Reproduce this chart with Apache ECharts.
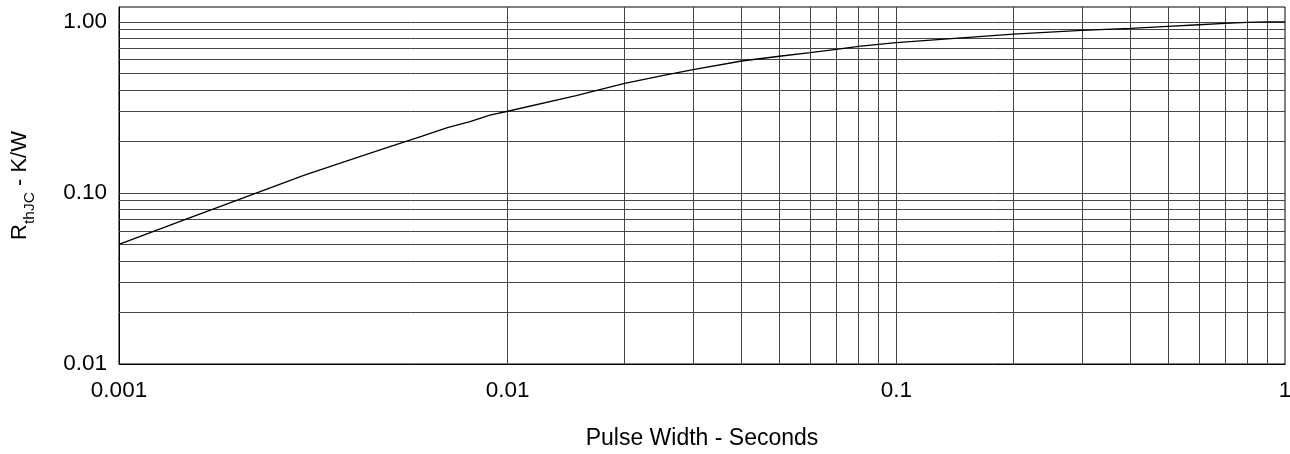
<!DOCTYPE html>
<html>
<head>
<meta charset="utf-8">
<script src="https://cdn.jsdelivr.net/npm/echarts@6/dist/echarts.min.js"></script>
<style>
html,body{margin:0;padding:0;background:#fff;}
#chart{width:1290px;height:454px;}
</style>
</head>
<body>
<div id="chart"></div>
<script>
// Pulse width (s)
var pulseWidth = [0.001, 0.0015, 0.002, 0.003, 0.004, 0.005, 0.006, 0.007, 0.008, 0.009,
                  0.01, 0.015, 0.02, 0.025, 0.03, 0.04, 0.05, 0.06, 0.07, 0.08, 0.09,
                  0.1, 0.2, 0.3, 0.4, 0.5, 0.6, 0.7, 0.8, 0.9, 1.0];
// Rth JC (K/W)
var rthJC = [0.050, 0.0707, 0.090, 0.127, 0.158, 0.187, 0.214, 0.241, 0.261, 0.285,
             0.300, 0.370, 0.437, 0.484, 0.525, 0.590, 0.629, 0.660, 0.690, 0.718, 0.738,
             0.755, 0.848, 0.891, 0.915, 0.940, 0.961, 0.979, 0.992, 1.0, 1.0];
// grid lines
var xGridValues = [0.002,0.003,0.004,0.005,0.006,0.007,0.008,0.009,0.01,
                   0.02,0.03,0.04,0.05,0.06,0.07,0.08,0.09,0.1,
                   0.2,0.3,0.4,0.5,0.6,0.7,0.8,0.9];
var yGridValues = [0.02,0.03,0.04,0.05,0.06,0.07,0.08,0.09,0.1,
                   0.2,0.3,0.4,0.5,0.6,0.7,0.8,0.9,1.0];
var xTickLabels = {'0.001':'0.001','0.01':'0.01','0.1':'0.1','1':'1'};
var yTickLabels = {'0.01':'0.01','0.1':'0.10','1':'1.00'};

function lookupLabel(map, v) {
  for (var k in map) {
    var kv = parseFloat(k);
    if (Math.abs(v - kv) < kv * 1e-6) return map[k];
  }
  return '';
}

var FONT = "'Liberation Sans', Arial, sans-serif";
var chart = echarts.init(document.getElementById('chart'));

var gridLineData = [];
xGridValues.forEach(function (v) { gridLineData.push({ xAxis: v }); });
yGridValues.forEach(function (v) { gridLineData.push({ yAxis: v }); });

chart.setOption({
  animation: false,
  backgroundColor: '#fff',
  grid: {
    left: 119, right: 5, top: 7, bottom: 90,
    containLabel: false,
    outerBoundsMode: 'none',
    show: true, borderColor: '#000', borderWidth: 1, backgroundColor: 'transparent'
  },
  xAxis: {
    type: 'log', logBase: 10, min: 0.001, max: 1,
    name: 'Pulse Width - Seconds',
    nameLocation: 'middle', nameGap: 63,
    nameTextStyle: { fontFamily: FONT, fontSize: 23, color: '#000' },
    axisLine: { lineStyle: { color: '#000', width: 1 } },
    axisTick: { show: false },
    splitLine: { show: false },
    axisLabel: {
      fontFamily: FONT, fontSize: 22.5, color: '#000', margin: 15,
      showMinLabel: true, showMaxLabel: true, hideOverlap: false,
      formatter: function (v) { return lookupLabel(xTickLabels, v); }
    }
  },
  yAxis: {
    type: 'log', logBase: 10, min: 0.01, max: 1.22,
    name: '{a|R}{b|thJC}{a| - K/W}',
    nameLocation: 'middle', nameGap: 85, nameRotate: 90,
    nameTextStyle: {
      fontFamily: FONT, color: '#000',
      rich: {
        a: { fontFamily: FONT, fontSize: 22, lineHeight: 25, verticalAlign: 'top', color: '#000' },
        b: { fontFamily: FONT, fontSize: 15.5, lineHeight: 16, padding: [13, 0, 0, 0], verticalAlign: 'top', color: '#000' }
      }
    },
    axisLine: { lineStyle: { color: '#000', width: 1 } },
    axisTick: { show: false },
    splitLine: { show: false },
    axisLabel: {
      fontFamily: FONT, fontSize: 22.5, color: '#000', margin: 12,
      showMinLabel: true, showMaxLabel: false, hideOverlap: false,
      formatter: function (v) { return lookupLabel(yTickLabels, v); }
    }
  },
  series: [{
    type: 'line',
    data: pulseWidth.map(function (t, i) { return [t, rthJC[i]]; }),
    showSymbol: false,
    symbol: 'none',
    smooth: false,
    z: 5,
    lineStyle: { color: '#000', width: 1.3 },
    markLine: {
      silent: true,
      z: 1,
      symbol: ['none', 'none'],
      label: { show: false },
      lineStyle: { color: '#444', width: 1, type: 'solid' },
      emphasis: { disabled: true },
      data: gridLineData
    }
  }]
});
</script>
</body>
</html>
